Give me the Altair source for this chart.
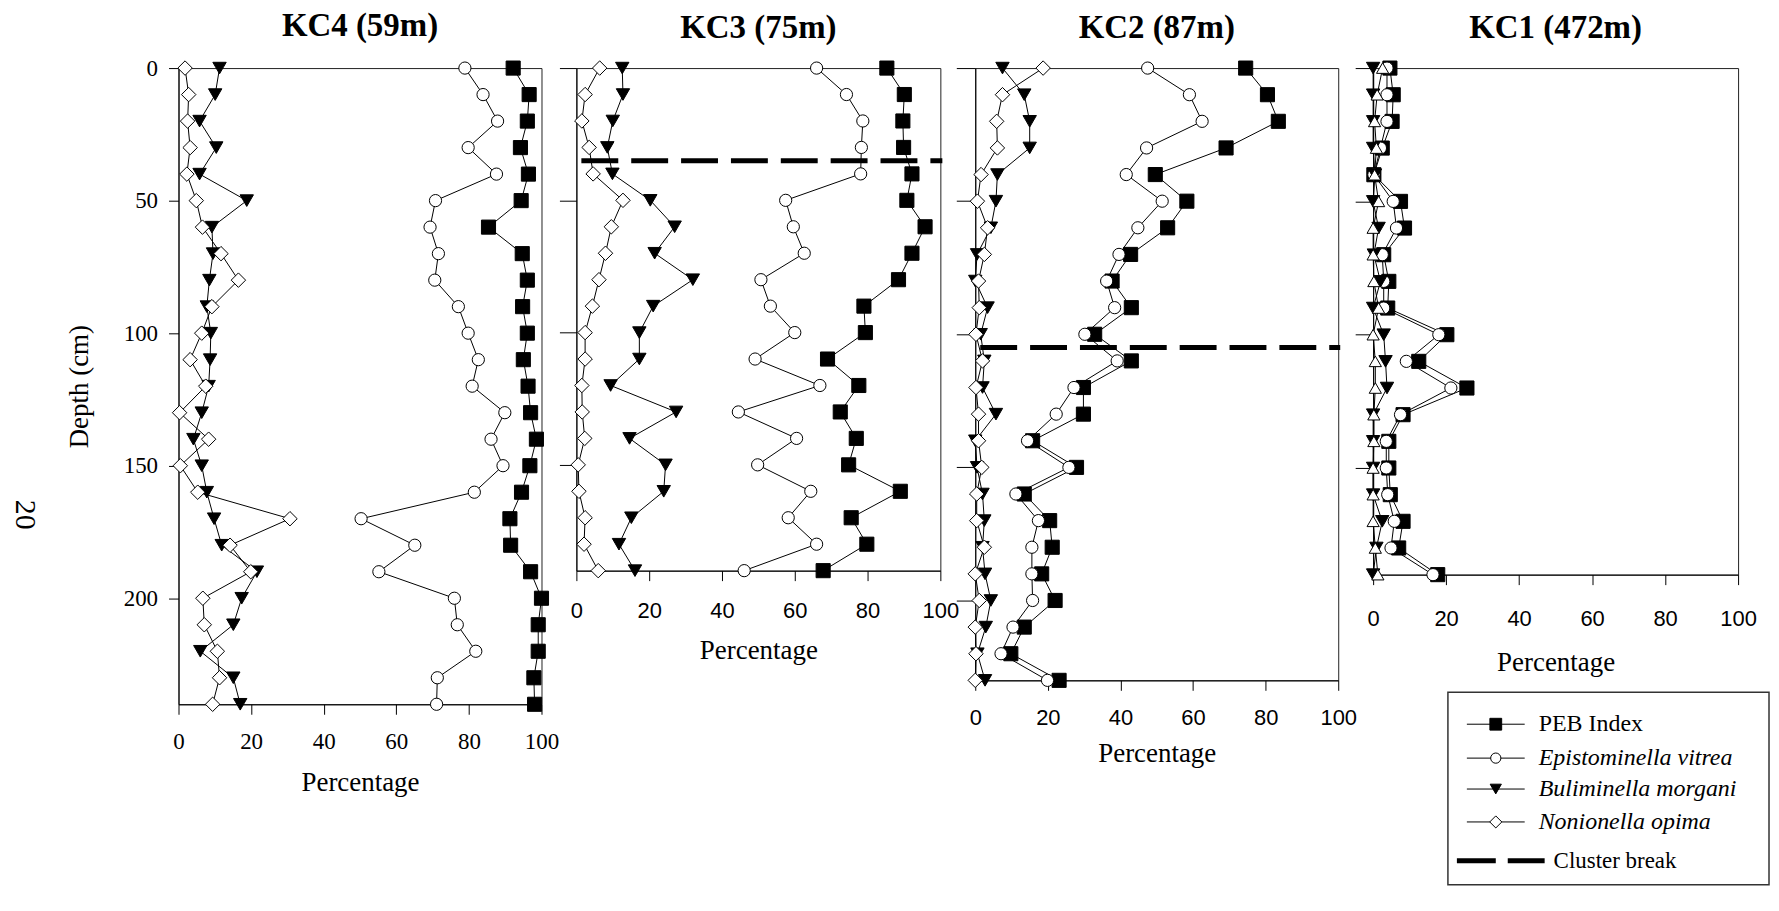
import altair as alt
import pandas as pd

SERIF = "Liberation Serif"
SANS = "Liberation Sans"

series_names = ["PEB Index", "Epistominella vitrea", "Buliminella morgani", "Nonionella opima"]

# ---------------- KC4 (59 m) ----------------
kc4_depth = [0, 10, 20, 30, 40, 50, 60, 70, 80, 90, 100, 110, 120, 130, 140, 150, 160, 170, 180, 190, 200, 210, 220, 230, 240]
kc4_peb = [92.2, 96.6, 96.1, 94.2, 96.4, 94.4, 85.4, 94.7, 96.1, 94.8, 96.1, 95.0, 96.3, 97.0, 98.6, 96.8, 94.5, 91.3, 91.5, 97.0, 100.0, 99.1, 99.1, 97.9, 98.1]
kc4_ev = [78.9, 83.9, 87.9, 79.8, 87.6, 70.8, 69.3, 71.6, 70.6, 77.1, 79.8, 82.6, 80.9, 89.9, 86.1, 89.4, 81.5, 50.3, 65.1, 55.2, 76.0, 76.8, 81.9, 71.3, 71.1]
kc4_bm = [11.3, 10.1, 5.8, 10.4, 5.8, 18.8, 9.2, 9.5, 8.5, 7.8, 8.9, 8.7, 8.3, 6.4, 4.1, 6.4, 7.8, 9.8, 11.9, 21.6, 17.4, 15.1, 6.0, 15.1, 17.0]
kc4_no = [1.8, 2.8, 2.5, 3.2, 2.3, 4.9, 6.6, 11.7, 16.5, 9.2, 6.4, 3.2, 7.5, 0.3, 8.3, 0.5, 5.3, 30.7, 14.2, 19.9, 6.7, 7.1, 10.7, 11.3, 9.4]

# ---------------- KC3 (75 m) ----------------
kc3_depth = [0, 10, 20, 30, 40, 50, 60, 70, 80, 90, 100, 110, 120, 130, 140, 150, 160, 170, 180, 190]
kc3_peb = [85.3, 90.1, 89.7, 89.9, 92.2, 90.8, 95.8, 92.2, 88.5, 79.0, 79.4, 69.0, 77.6, 72.5, 76.9, 74.8, 89.0, 75.5, 79.8, 67.8]
kc3_ev = [66.0, 74.2, 78.7, 78.3, 78.1, 57.5, 59.6, 62.6, 50.7, 53.3, 60.0, 49.1, 66.9, 44.5, 60.5, 49.8, 64.4, 58.2, 66.0, 46.1]
kc3_bm = [12.6, 12.8, 10.0, 8.5, 9.9, 20.3, 27.0, 21.5, 32.0, 21.1, 17.3, 17.3, 9.4, 27.4, 14.6, 24.5, 24.0, 15.1, 11.7, 16.1]
kc3_no = [6.4, 2.4, 1.5, 3.5, 4.6, 12.8, 9.6, 8.0, 6.2, 4.4, 2.4, 2.4, 1.5, 1.6, 2.3, 0.5, 0.7, 2.4, 2.1, 6.0]
kc3_break = [35]

# ---------------- KC2 (87 m) ----------------
kc2_depth = [0, 10, 20, 30, 40, 50, 60, 70, 80, 90, 100, 110, 120, 130, 140, 150, 160, 170, 180, 190, 200, 210, 220, 230]
kc2_peb = [74.5, 80.5, 83.5, 69.1, 49.6, 58.3, 53.0, 42.8, 37.7, 43.0, 32.9, 43.0, 29.8, 29.8, 15.8, 27.9, 13.5, 20.5, 21.2, 18.3, 22.0, 13.5, 9.8, 23.1]
kc2_ev = [47.5, 59.0, 62.5, 47.2, 41.6, 51.5, 44.8, 39.6, 36.2, 38.4, 30.2, 39.1, 27.2, 22.3, 14.4, 25.8, 11.2, 17.4, 15.6, 15.6, 15.8, 10.4, 7.1, 19.9]
kc2_bm = [7.5, 13.5, 15.0, 15.0, 6.1, 5.7, 4.3, 0.5, 0.0, 3.4, 1.5, 2.5, 2.0, 5.7, 0.0, 0.5, 2.0, 2.5, 2.0, 2.7, 4.3, 2.9, 0.6, 2.7]
kc2_no = [18.7, 7.5, 5.9, 6.1, 1.6, 0.6, 3.4, 2.5, 0.9, 1.1, 0.2, 2.0, 0.2, 0.9, 0.9, 1.8, 0.4, 0.4, 2.5, 0.0, 1.1, 0.0, 0.2, 0.0]
kc2_break = [105]

# ---------------- KC1 (472 m) ----------------
kc1_depth = [0, 10, 20, 30, 40, 50, 60, 70, 80, 90, 100, 110, 120, 130, 140, 150, 160, 170, 180, 190]
kc1_peb = [4.6, 5.5, 5.2, 2.5, 0.2, 7.5, 8.6, 2.9, 4.3, 4.0, 20.2, 12.5, 25.7, 8.2, 4.3, 4.3, 4.7, 8.2, 7.0, 17.7]
kc1_ev = [3.8, 3.8, 3.8, 2.0, 0.2, 5.5, 6.4, 2.5, 2.9, 2.9, 18.0, 9.1, 21.3, 7.5, 3.6, 3.6, 4.0, 5.8, 4.9, 16.4]
kc1_bm = [0.0, 0.0, 0.0, 0.0, 0.5, 0.0, 1.5, 0.2, 2.0, 0.0, 2.9, 3.4, 3.8, 0.0, 0.0, 0.0, 0.0, 2.5, 0.9, 0.0]
kc1_no = [2.6, 1.1, 0.4, 0.9, 0.4, 1.5, 0.0, 0.0, 0.2, 1.5, 0.0, 0.6, 0.6, 0.2, 0.2, 0.0, 0.0, 0.0, 0.6, 1.3]

x_ticks = [0, 20, 40, 60, 80, 100]
page_number = ["20"]

SHAPES = {"PEB Index": "square", "Epistominella vitrea": "circle",
          "Buliminella morgani": "triangle-down", "Nonionella opima": "diamond"}
FILLS = {"PEB Index": "black", "Epistominella vitrea": "white",
         "Buliminella morgani": "black", "Nonionella opima": "white"}
SIZES = {"square": 200, "circle": 150, "triangle-down": 180, "diamond": 210, "triangle-up": 150}


def build_df(depth, cols, nop_shape="diamond"):
    rows = []
    for name, vals in zip(series_names, cols):
        shp = SHAPES[name] if name != "Nonionella opima" else nop_shape
        for d, v in zip(depth, vals):
            rows.append(dict(depth=d, value=v, series=name, shape=shp,
                             fill=FILLS[name], size=SIZES[shp]))
    return pd.DataFrame(rows)


def panel(title, df, ymax, w, h, y_vals, y_tick, show_y, lab_font, lab_size,
          lab_pad, title_pad, breaks=None, extra=()):
    x_enc = alt.X("value:Q",
                  scale=alt.Scale(domain=[0, 100], nice=False, zero=False),
                  axis=alt.Axis(values=x_ticks, title="Percentage", titleFont=SERIF,
                                titleFontSize=27, titleFontWeight="normal",
                                titleColor="black", titlePadding=title_pad,
                                labelFont=lab_font, labelFontSize=lab_size,
                                labelColor="black", labelPadding=lab_pad,
                                labelFlush=False, tickSize=10, tickColor="black",
                                domainColor="black", grid=False))
    if show_y:
        y_axis = alt.Axis(values=y_vals, title="Depth (cm)", titleFont=SERIF,
                          titleFontSize=27, titleFontWeight="normal",
                          titleColor="black", titlePadding=30,
                          labelFont=SERIF, labelFontSize=23, labelColor="black",
                          labelPadding=11, tickSize=y_tick, tickColor="black",
                          domainColor="black", grid=False)
    else:
        y_axis = alt.Axis(values=y_vals, title=None, labels=False,
                          tickSize=y_tick, tickColor="black",
                          domainColor="black", grid=False)
    y_enc = alt.Y("depth:Q",
                  scale=alt.Scale(domain=[0, ymax], reverse=True, nice=False, zero=False),
                  axis=y_axis)

    base = alt.Chart(df)
    lines = base.mark_line(color="black", strokeWidth=1).encode(
        x=x_enc, y=y_enc, detail="series:N", order="depth:Q")
    pts = base.mark_point(filled=True, stroke="black", strokeWidth=1,
                          opacity=1, fillOpacity=1).encode(
        x=x_enc, y=y_enc,
        shape=alt.Shape("shape:N", scale=None),
        fill=alt.Fill("fill:N", scale=None),
        size=alt.Size("size:Q", scale=None))
    layers = [lines, pts]
    if breaks is not None:
        bdf = pd.DataFrame({"depth": breaks})
        rule = alt.Chart(bdf).mark_rule(color="black", strokeWidth=5,
                                        strokeDash=[37, 13]).encode(
            y=y_enc, x=alt.value(5), x2=alt.value(w + 2))
        layers.append(rule)
    layers.extend(extra)
    return alt.layer(*layers).properties(
        width=w, height=h,
        title=alt.TitleParams(text=title, font=SERIF, fontSize=33,
                              fontWeight="bold", color="black", offset=14,
                              anchor="middle"))


# page number at the left edge
page_txt = alt.Chart(pd.DataFrame({"t": page_number})).mark_text(
    font=SERIF, fontSize=30, angle=90, color="black").encode(
    text="t:N", x=alt.value(24 - 178), y=alt.value(518 - 70))

# legend drawn beside KC1 (pixel positions relative to the KC1 plot)
legend_entries = [
    ("PEB Index", "square", "black", "normal"),
    ("Epistominella vitrea", "circle", "white", "italic"),
    ("Buliminella morgani", "triangle-down", "black", "italic"),
    ("Nonionella opima", "diamond", "white", "italic"),
]
leg_rows = [658, 692, 723, 756]
legend_layers = []
box = alt.Chart(pd.DataFrame({"b": ["box"]})).mark_rect(
    fill="white", stroke="#333", strokeWidth=1.5).encode(
    x=alt.value(75), x2=alt.value(397), y=alt.value(626), y2=alt.value(819))
legend_layers.append(box)
for (name, shp, fil, style), yy in zip(legend_entries, leg_rows):
    d = pd.DataFrame({"label": [name]})
    legend_layers.append(alt.Chart(d).mark_rule(color="black", strokeWidth=1).encode(
        x=alt.value(94), x2=alt.value(152), y=alt.value(yy)))
    legend_layers.append(alt.Chart(d).mark_point(
        shape=shp, filled=True, fill=fil, stroke="black", strokeWidth=1,
        opacity=1, size=SIZES[shp] * 0.7).encode(x=alt.value(123), y=alt.value(yy)))
    legend_layers.append(alt.Chart(d).mark_text(
        font=SERIF, fontSize=24, fontStyle=style, align="left", baseline="middle",
        color="black").encode(text="label:N", x=alt.value(166), y=alt.value(yy)))
dcl = pd.DataFrame({"label": ["Cluster break"]})
legend_layers.append(alt.Chart(dcl).mark_rule(color="black", strokeWidth=5,
                                              strokeDash=[39, 12]).encode(
    x=alt.value(84), x2=alt.value(172), y=alt.value(795)))
legend_layers.append(alt.Chart(dcl).mark_text(
    font=SERIF, fontSize=23, align="left", baseline="middle", color="black").encode(
    text="label:N", x=alt.value(181), y=alt.value(795)))

kc4 = panel("KC4 (59m)", build_df(kc4_depth, [kc4_peb, kc4_ev, kc4_bm, kc4_no]),
            240, 364, 638, [0, 50, 100, 150, 200], 10, True, SERIF, 23, 16, 16,
            extra=[page_txt])
kc3 = panel("KC3 (75m)", build_df(kc3_depth, [kc3_peb, kc3_ev, kc3_bm, kc3_no]),
            190, 365, 504, [0, 50, 100, 150], 17, False, SANS, 22, 20, 16,
            breaks=kc3_break)
kc2 = panel("KC2 (87m)", build_df(kc2_depth, [kc2_peb, kc2_ev, kc2_bm, kc2_no]),
            230, 364, 614, [0, 50, 100, 150, 200], 19, False, SANS, 22, 17, 12,
            breaks=kc2_break)
kc1 = panel("KC1 (472m)", build_df(kc1_depth, [kc1_peb, kc1_ev, kc1_bm, kc1_no],
                                   nop_shape="triangle-up"),
            190, 366, 508, [0, 50, 100, 150], 18, False, SANS, 22, 24, 20,
            extra=legend_layers)

chart = alt.hconcat(kc4, kc3, kc2, kc1, spacing=35, bounds="flush").resolve_scale(
    x="independent", y="independent").configure_view(
    stroke="#222", strokeWidth=1).properties(
    padding={"left": 1, "top": 0, "right": 0, "bottom": 0},
    background="white")

chart.save("out.html", embed_options={"renderer": "svg", "actions": False})
